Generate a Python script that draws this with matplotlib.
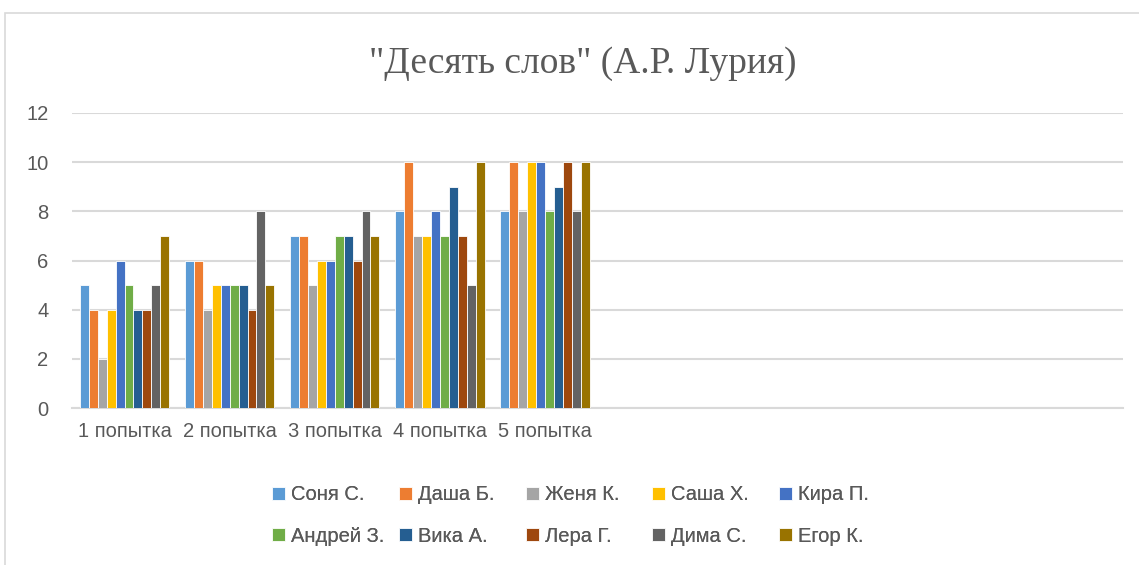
import matplotlib.pyplot as plt
import numpy as np
from matplotlib.patches import Rectangle

# попытки (на оси 10 мест, подписаны только первые 5)
attempts = ['1 попытка', '2 попытка', '3 попытка', '4 попытка', '5 попытка']
n_slots = 10

names = ['Соня С.', 'Даша Б.', 'Женя К.', 'Саша Х.', 'Кира П.',
         'Андрей З.', 'Вика А.', 'Лера Г.', 'Дима С.', 'Егор К.']
colors = ['#5B9BD5', '#ED7D31', '#A5A5A5', '#FFC000', '#4472C4',
          '#70AD47', '#255E91', '#9E480E', '#636363', '#997300']

# баллы по попыткам для каждого ученика
sonya = [5, 6, 7, 8, 8]
dasha = [4, 6, 7, 10, 10]
zhenya = [2, 4, 5, 7, 8]
sasha = [4, 5, 6, 7, 10]
kira = [6, 5, 6, 8, 10]
andrey = [5, 5, 7, 7, 8]
vika = [4, 5, 7, 9, 9]
lera = [4, 4, 6, 7, 10]
dima = [5, 8, 8, 5, 8]
egor = [7, 5, 7, 10, 10]
series = [sonya, dasha, zhenya, sasha, kira, andrey, vika, lera, dima, egor]

W, H = 1139, 565
fig = plt.figure(figsize=(W / 100, H / 100), dpi=100)
ax = fig.add_axes([72 / W, 1 - 408 / H, (1123 - 72) / W, (408 - 113) / H])

# рамка области диаграммы
fig.patches.append(Rectangle((5 / W, -0.1), 1.2, 1 - 13 / H + 0.1,
                             transform=fig.transFigure, fill=False,
                             edgecolor='#D9D9D9', linewidth=1.2))

x = np.arange(len(attempts))
w = 0.085
bars = []
for i, (name, vals, c) in enumerate(zip(names, series, colors)):
    b = ax.bar(x + (i - 4.5) * w, vals, width=w, color=c, label=name,
               edgecolor='white', linewidth=0.6, zorder=3)
    bars.append(b)

ax.set_xlim(-0.5, n_slots - 0.5)
ax.set_ylim(0, 12)
ax.set_yticks(range(0, 13, 2))
ax.yaxis.grid(True, color='#D9D9D9', linewidth=1.5, zorder=0)
ax.set_xticks(x)
ax.set_xticklabels(attempts)
ax.tick_params(length=0, labelsize=14.5, colors='#595959')
ax.tick_params(axis='x', pad=10)
ax.tick_params(axis='y', pad=17)
for lbl in ax.get_xticklabels() + ax.get_yticklabels():
    lbl.set_fontfamily('Liberation Sans')
for s in ['top', 'right', 'left']:
    ax.spines[s].set_visible(False)
ax.spines['bottom'].set_color('#D9D9D9')
ax.spines['bottom'].set_linewidth(1.5)

fig.text(583 / W, 1 - 64 / H, '"Десять слов" (А.Р. Лурия)', ha='center', va='center',
         fontsize=27, color='#595959', family='Liberation Serif')

# легенда: 5 колонок по 2 строки, шаг колонок фиксированный
for j in range(5):
    leg = fig.legend([bars[j], bars[j + 5]], [names[j], names[j + 5]],
                     loc='center left', bbox_to_anchor=((272 + 126.75 * j) / W, 1 - 515.5 / H),
                     frameon=False, borderpad=0, borderaxespad=0,
                     prop={'family': 'Liberation Sans', 'size': 14.5},
                     labelcolor='#595959', handlelength=0.65, handleheight=0.65,
                     handletextpad=0.3, labelspacing=1.1)
    fig.add_artist(leg)

plt.savefig('out.png', dpi=100)
